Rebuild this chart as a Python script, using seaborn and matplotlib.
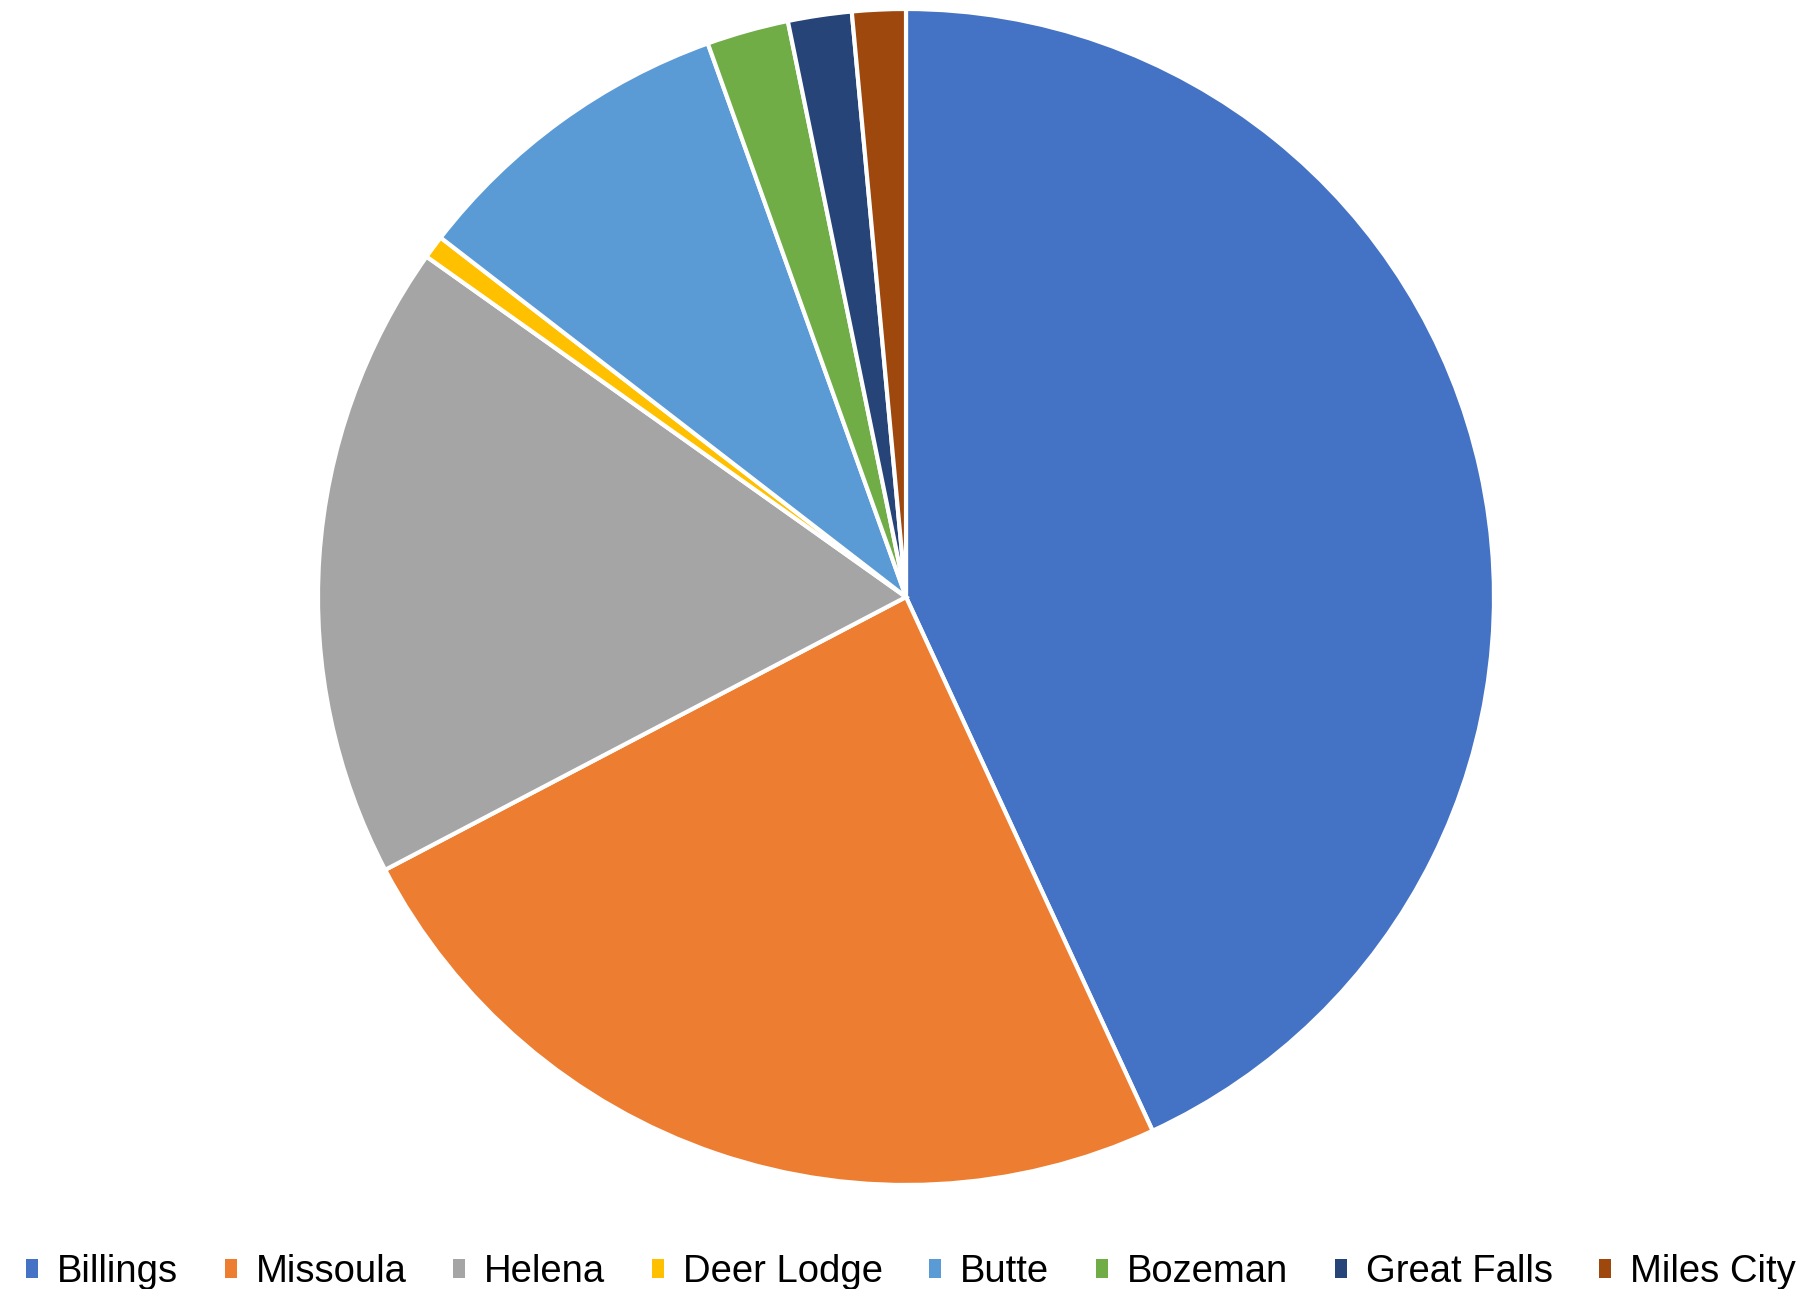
#!/usr/bin/env python3
"""
Pie chart of shares by Montana city
"""
import seaborn as sns
import matplotlib.pyplot as plt
from matplotlib.patches import Patch

cities = ["Billings", "Missoula", "Helena", "Deer Lodge",
          "Butte", "Bozeman", "Great Falls", "Miles City"]
shares = [43.1, 24.2, 17.5, 0.64, 9.06, 2.25, 1.75, 1.47]
colors = ["#4472C4", "#ED7D31", "#A5A5A5", "#FFC000",
          "#5B9BD5", "#70AD47", "#264478", "#9E480E"]

sns.set_theme(style="white")
plt.rcParams['font.family'] = ['Liberation Sans', 'DejaVu Sans']

fig = plt.figure(figsize=(18.1, 12.89), dpi=100)
# square axes, pie centre about (906, 597) px, radius about 588 px
r = 588
ax = fig.add_axes([(906 - r) / 1810, (1289 - 597 - r) / 1289, 2 * r / 1810, 2 * r / 1289])

ax.pie(shares, colors=colors, startangle=90, counterclock=False, radius=1,
       wedgeprops=dict(edgecolor="white", linewidth=3))
ax.set_xlim(-1, 1)
ax.set_ylim(-1, 1)
ax.set_aspect("equal")
ax.axis("off")

handles = [Patch(facecolor=c, edgecolor="none") for c in colors]
fig.legend(handles, cities, loc="center left", bbox_to_anchor=(0.0144, 0.013),
           ncol=8, frameon=False, fontsize=27.5, handlelength=0.31,
           handleheight=0.4, handletextpad=0.5, columnspacing=1.22,
           borderpad=0, borderaxespad=0, labelcolor="black")

fig.savefig("out.png", dpi=100)
